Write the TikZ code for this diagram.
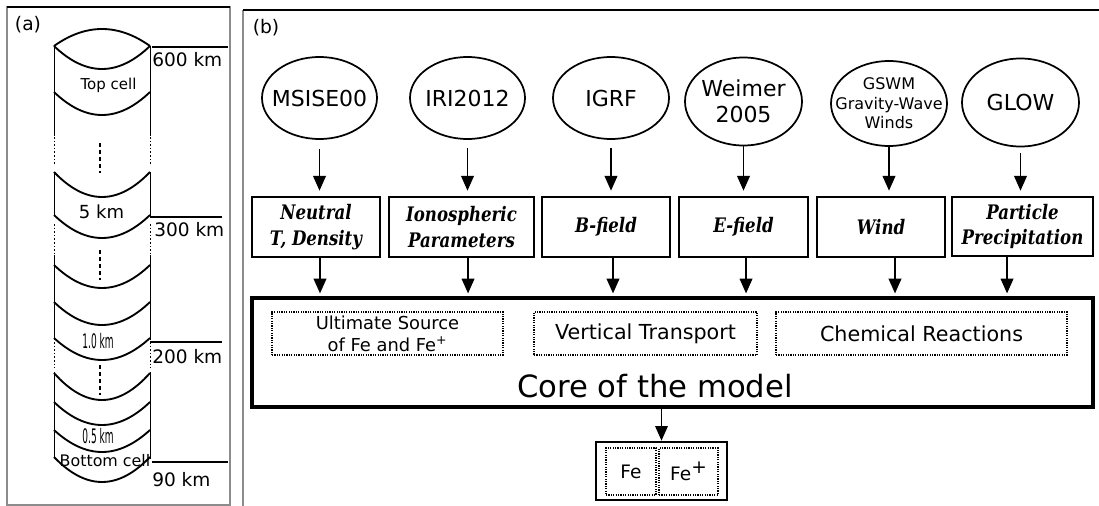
\documentclass[tikz,border=0pt]{standalone}
\usepackage{fontspec}
\setmainfont{DejaVu Sans}
\newfontfamily\bxfont{DejaVu Serif}[FakeStretch=0.83]
\usetikzlibrary{shapes.geometric,arrows.meta,calc}
\begin{document}
\begin{tikzpicture}[x=0.75pt,y=-0.75pt,
  frame/.style={draw=black!45, line width=0.8pt},
  topline/.style={draw=black, line width=1.2pt},
  side/.style={line width=0.7pt},
  sidedot/.style={line width=0.7pt, dash pattern=on 1.2pt off 1.5pt},
  cdash/.style={line width=1.1pt, dash pattern=on 3pt off 2.2pt},
  cellc/.style={line width=1.4pt},
  kmline/.style={line width=1.4pt},
  kmlab/.style={anchor=west, inner sep=0pt, font=\fontsize{13.9}{16}\selectfont},
  ell/.style={ellipse, draw, line width=1.3pt, inner sep=0pt},
  elltext/.style={inner sep=0pt, align=center, font=\fontsize{16.5}{19.5}\selectfont},
  param/.style={rectangle, draw, line width=2pt, minimum height=45pt, inner sep=0pt, align=center, font=\bxfont\bfseries\itshape\fontsize{15}{19}\selectfont},
  arr/.style={-{Triangle[length=11pt,width=9.5pt]}, line width=1.1pt},
  inbox/.style={draw, line width=0.8pt, dash pattern=on 0.9pt off 0.9pt, minimum height=32.25pt, inner sep=0pt, align=center, font=\fontsize{15.5}{16.5}\selectfont},
]
\useasboundingbox (0,0) rectangle (1099,506);

% ---------- frames ----------
\draw[frame] (7,7) rectangle (230,505);
\draw[topline] (7,7) -- (230,7);
\draw[frame] (243,10) -- (243,506);
\draw[topline] (243,10) -- (1099,10);
\node[font=\fontsize{14}{16}\selectfont, inner sep=0pt] (la) at (28,25) {(a)};
\node[font=\fontsize{14}{16}\selectfont, inner sep=0pt] (lb) at (266,28) {(b)};

% ---------- panel (a) ----------
\foreach \x in {54,150} {
  \draw[side] (\x,46) -- (\x,136);
  \draw[sidedot] (\x,137) -- (\x,165);
  \draw[side] (\x,172) -- (\x,216);
  \draw[sidedot] (\x,224) -- (\x,254);
  \draw[side] (\x,255) -- (\x,340);
  \draw[sidedot] (\x,342) -- (\x,368);
  \draw[side] (\x,372) -- (\x,459);
}
\draw[cdash] (100,143) -- (100,173);
\draw[cdash] (100,250) -- (100,280);
\draw[cdash] (100,365) -- (100,395);
\foreach \y/\s in {46/-17,46/23,92/23,172/25,215/23,265/23,302/23,338/22,373/27,402/23,430/22,457/25}
  \draw[cellc] (54,\y) .. controls (86,\y+\s*1.3333) and (118,\y+\s*1.3333) .. (150,\y);

\draw[kmline] (152,47) -- (228,47);
\draw[kmline] (150,217) -- (222,217);
\draw[kmline] (150,342) -- (222,342);
\draw[kmline] (152,462) -- (228,462);
\node[kmlab] (k600) at (152,60) {600 km};
\node[kmlab] (k300) at (154,230) {300 km};
\node[kmlab] (k200) at (152,357) {200 km};
\node[kmlab] (k90) at (152,480) {90 km};

\node[inner sep=0pt, font=\fontsize{11.25}{13}\selectfont] (topc) at (108.5,85) {Top cell};
\node[inner sep=0pt, font=\fontsize{13.5}{15}\selectfont] (c5) at (101.5,212) {5 km};
\node[inner sep=0pt, font=\fontsize{15}{17}\selectfont] (c10) at (98,341) {\scalebox{0.45}[1]{1.0 km}};
\node[inner sep=0pt, font=\fontsize{15}{17}\selectfont] (c05) at (98,436) {\scalebox{0.45}[1]{0.5 km}};
\node[inner sep=0pt, font=\fontsize{11.9}{13}\selectfont] (botc) at (105,461) {Bottom cell};

% ---------- panel (b) ----------
\node[ell, minimum width=86.25pt, minimum height=61.5pt] (msis) at (319.5,98) {};
\node[ell, minimum width=86.25pt, minimum height=61.5pt] (iri) at (467.5,98) {};
\node[ell, minimum width=87pt, minimum height=61.5pt] (igrf) at (611,98) {};
\node[ell, minimum width=87.75pt, minimum height=66pt] (weim) at (743.5,101.5) {};
\node[ell, minimum width=87pt, minimum height=63.75pt] (gswm) at (889,103.5) {};
\node[ell, minimum width=87.75pt, minimum height=66pt] (glow) at (1020.5,102.5) {};

\node[elltext] (msist) at (msis) {MSISE00};
\node[elltext] (irit) at (iri) {IRI2012};
\node[elltext] (igrft) at (igrf) {IGRF};
\node[elltext] (weimt) at (weim) {Weimer\\2005};
\node[elltext, font=\fontsize{12}{14.6}\selectfont] (gswmt) at (gswm) {GSWM\\Gravity-Wave\\Winds};
\node[elltext] (glowt) at (glow) {GLOW};

\node[param, minimum width=96pt] (neut) at (316,227) {Neutral\\T, Density};
\node[param, minimum width=108.75pt] (iono) at (461.5,227) {Ionospheric\\Parameters};
\node[param, minimum width=96pt] (bfld) at (606,227) {B-field};
\node[param, minimum width=96.75pt] (efld) at (743.5,227) {E-field};
\node[param, minimum width=96pt] (wind) at (881,227) {Wind};
\node[param, minimum width=105.75pt, minimum height=44.25pt] (part) at (1022.5,226.5) {Particle\\Precipitation};

\draw[arr, shorten <=6.75pt, shorten >=3.75pt] (msis.south) -- (msis.south |- neut.north);
\draw[arr, shorten <=6pt, shorten >=3.75pt] (iri.south) -- (iri.south |- iono.north);
\draw[arr, shorten <=6pt, shorten >=3.75pt] (igrf.south) -- (igrf.south |- bfld.north);
\draw[arr, shorten >=3.75pt] (weim.south) -- (weim.south |- efld.north);
\draw[arr, shorten >=3.75pt] (gswm.south) -- (gswm.south |- wind.north);
\draw[arr, shorten <=4.5pt, shorten >=3.75pt] (glow.south) -- (glow.south |- part.north);

\node[rectangle, draw, line width=2.4pt, minimum width=630.75pt, minimum height=81.75pt, inner sep=0pt] (core) at (672.5,352.5) {};
\node[inbox, minimum width=173.25pt, font=\fontsize{13.4}{16.5}\selectfont] (ult) at (387.5,333.5) {Ultimate Source\\of Fe and Fe\textsuperscript{+}};
\node[inbox, minimum width=167.25pt] (vert) at (645.5,333.5) {Vertical Transport};
\node[inbox, minimum width=218.25pt] (chem) at (921.5,333.5) {Chemical Reactions};
\node[anchor=base, inner sep=0pt, font=\fontsize{23}{26}\selectfont] (coret) at (655,397) {Core of the model};

\draw[arr, shorten >=2.25pt] ([xshift=3pt]neut.south) -- ([xshift=3pt]neut.south |- core.north);
\draw[arr, shorten >=2.25pt] ([xshift=4.9pt]iono.south) -- ([xshift=4.9pt]iono.south |- core.north);
\draw[arr, shorten >=2.25pt] ([xshift=5.25pt]bfld.south) -- ([xshift=5.25pt]bfld.south |- core.north);
\draw[arr, shorten >=2.25pt] ([xshift=1.9pt]efld.south) -- ([xshift=1.9pt]efld.south |- core.north);
\draw[arr, shorten >=2.25pt] ([xshift=10.5pt]wind.south) -- ([xshift=10.5pt]wind.south |- core.north);
\draw[arr, shorten >=2.25pt] ([xshift=-11.6pt]part.south) -- ([xshift=-11.6pt]part.south |- core.north);

\node[rectangle, draw, line width=2pt, minimum width=98.25pt, minimum height=43.5pt, inner sep=0pt] (febox) at (661.5,471) {};
\node[inbox, minimum width=37.5pt, minimum height=35.25pt, font=\fontsize{13.9}{16}\selectfont] (fe) at (631,471.5) {Fe};
\node[inbox, minimum width=44.25pt, minimum height=35.25pt, font=\fontsize{13.9}{16}\selectfont] (fep) at (688.5,471.5) {Fe\raisebox{0.75ex}{+}};
\draw[arr] (core.south -| febox.north) -- (febox.north);
\end{tikzpicture}
\end{document}
